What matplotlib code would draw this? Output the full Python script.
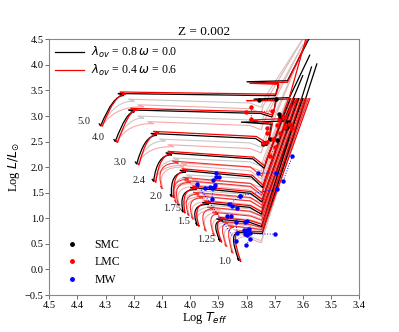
import matplotlib
matplotlib.use("Agg")
import matplotlib.pyplot as plt
from matplotlib.path import Path
from matplotlib.patches import PathPatch
from matplotlib.lines import Line2D

plt.rcParams['font.family'] = ['Liberation Serif', 'DejaVu Serif']
plt.rcParams['mathtext.fontset'] = 'dejavusans'

# ---- track parameters (log Teff, log L) ----
masses = [1.0, 1.25, 1.5, 1.75, 2.0, 2.4, 3.0, 4.0, 5.0]
mass_labels = ["1.0", "1.25", "1.5", "1.75", "2.0", "2.4", "3.0", "4.0", "5.0"]
label_t = [3.878, 3.945, 4.022, 4.063, 4.122, 4.183, 4.250, 4.326, 4.378]
label_l = [0.15, 0.59, 0.93, 1.19, 1.42, 1.73, 2.09, 2.58, 2.89]
ms_bulge = [0.040, 0.035, 0.030, 0.020, 0.008, -0.012, -0.028, -0.040, -0.045]
has_hook = [0, 1, 1, 1, 1, 1, 1, 1, 1]

# lambda_ov = 0.8, omega = 0.0 (black)
blk_zams_t = [3.827, 3.894, 3.975, 4.025, 4.066, 4.130, 4.190, 4.266, 4.318]
blk_zams_l = [0.17, 0.55, 0.86, 1.12, 1.42, 1.72, 2.06, 2.50, 2.805]
blk_tams_t = [3.825, 3.885, 3.935, 3.978, 4.015, 4.065, 4.118, 4.198, 4.235]
blk_tams_l = [0.72, 0.95, 1.27, 1.56, 1.90, 2.24, 2.62, 3.08, 3.40]
blk_base_t = [3.745, 3.747, 3.748, 3.746, 3.743, 3.738, 3.728, 3.710, 3.698]
blk_base_l = [0.70, 0.84, 1.08, 1.32, 1.60, 1.98, 2.42, 2.98, 3.40]
blk_top_t = [3.550, 3.569, 3.600, 3.615, 3.630, 3.645, 3.712, 3.697, 3.688]
blk_top_l = [4.03, 3.97, 3.35, 3.35, 3.35, 3.35, 2.84, 3.30, 3.64]

# lambda_ov = 0.4, omega = 0.6 (red)
red_zams_t = [3.820, 3.888, 3.968, 4.018, 4.058, 4.122, 4.182, 4.258, 4.312]
red_zams_l = [0.15, 0.53, 0.84, 1.10, 1.40, 1.70, 2.04, 2.48, 2.80]
red_tams_t = [3.820, 3.878, 3.928, 3.970, 4.008, 4.058, 4.110, 4.190, 4.228]
red_tams_l = [0.75, 0.98, 1.30, 1.59, 1.93, 2.27, 2.66, 3.11, 3.43]
red_base_t = [3.742, 3.744, 3.745, 3.743, 3.740, 3.735, 3.725, 3.708, 3.695]
red_base_l = [0.74, 0.88, 1.12, 1.36, 1.64, 2.02, 2.46, 3.02, 3.43]
red_top_t = [3.575, 3.590, 3.605, 3.620, 3.635, 3.650, 3.708, 3.694, 3.685]
red_top_l = [3.35, 3.35, 3.35, 3.35, 3.35, 3.35, 2.86, 3.30, 3.62]

# blue loops and early AGB for 3.0, 4.0, 5.0
blk_loop_t = [3.820, 3.775, 3.800]
blk_loop_l = [2.88, 3.33, 3.67]
blk_ret_t = [3.668, 3.648, 3.655]
blk_ret_l = [2.90, 3.36, 3.69]
blk_agb_t = [3.600, 3.575, 3.570]
blk_agb_l = [3.80, 4.20, 4.60]
red_loop_t = [3.790, 3.800, 3.790]
red_loop_l = [2.92, 3.30, 3.64]
red_ret_t = [3.665, 3.650, 3.655]
red_ret_l = [2.95, 3.33, 3.66]
red_agb_t = [3.620, 3.585, 3.575]
red_agb_l = [3.35, 4.60, 4.60]

# other parameter combinations (light lines)
pnk_tams_t = [3.800, 3.850, 3.892, 3.935, 3.972, 4.012, 4.058, 4.130, 4.165]
pnk_tams_l = [0.64, 0.88, 1.16, 1.43, 1.72, 2.04, 2.40, 2.85, 3.18]
gry_tams_t = [3.812, 3.866, 3.912, 3.955, 3.993, 4.040, 4.088, 4.165, 4.198]
gry_tams_l = [0.68, 0.92, 1.22, 1.50, 1.81, 2.14, 2.51, 2.96, 3.29]
lgt_top_t = [3.585, 3.595, 3.610, 3.625, 3.640, 3.655, 3.615, 3.600, 3.590]
lgt_top_l = [3.35, 3.35, 3.35, 3.35, 3.35, 3.35, 4.10, 4.40, 4.60]

# intermediate masses in the low-mass fan
mid_zams_t = [3.850, 3.872, 3.915, 3.945, 3.990, 4.005, 4.040, 4.050, 4.100]
mid_zams_l = [0.32, 0.45, 0.66, 0.75, 0.98, 1.05, 1.24, 1.30, 1.58]
mid_tams_t = [3.845, 3.866, 3.900, 3.918, 3.955, 3.968, 3.998, 4.005, 4.042]
mid_tams_l = [0.82, 0.90, 1.08, 1.18, 1.40, 1.47, 1.70, 1.76, 2.08]
mid_base_l = [0.78, 0.82, 0.96, 1.04, 1.20, 1.26, 1.45, 1.50, 1.82]
mid_top_t = [3.580, 3.585, 3.595, 3.600, 3.612, 3.618, 3.626, 3.630, 3.642]

# observed stars: each consecutive pair is joined by a dotted line
smc_t = [3.755, 3.696, 3.684, 3.681, 3.654, 3.651, 3.655, 3.660, 3.717, 3.691, 3.743, 3.738]
smc_l = [3.31, 3.34, 3.04, 2.99, 2.89, 2.84, 2.78, 2.76, 2.55, 2.54, 2.45, 2.47]
lmc_t = [3.802, 3.711, 3.784, 3.784, 3.726, 3.729, 3.741, 3.729, 3.693, 3.684,
         3.672, 3.664, 3.648, 3.640, 3.681, 3.705, 3.698, 3.717]
lmc_l = [3.07, 3.10, 3.17, 2.94, 2.76, 2.66, 2.47, 2.50, 2.83, 2.92,
         2.98, 2.79, 2.84, 2.76, 2.66, 2.56, 2.40, 2.21]
mw_t = [3.977, 3.838, 3.948, 3.930, 3.924, 3.912, 3.918, 3.909, 3.897, 3.909,
        3.924, 3.916, 3.823, 3.693, 3.758, 3.697, 3.670, 3.638, 3.861, 3.823,
        3.851, 3.833, 3.855, 3.871, 3.838, 3.833, 3.800, 3.699, 3.806, 3.800,
        3.809, 3.800, 3.806, 3.798, 3.790, 3.788, 3.802, 3.788]
mw_l = [1.68, 0.56, 1.60, 1.62, 1.59, 1.65, 1.75, 1.81, 1.80, 1.89,
        1.37, 1.62, 1.44, 1.57, 1.88, 1.89, 1.73, 2.21, 1.27, 1.44,
        1.24, 1.20, 1.05, 1.05, 0.93, 0.72, 0.70, 0.69, 0.92, 0.95,
        0.77, 0.78, 0.69, 0.67, 0.80, 0.71, 0.48, 0.59]


def track(t0, l0, t1, l1, bt, bl, et, el, bulge, hook, loop=None):
    verts = [(t0 + 0.006, l0 + 0.05), (t0, l0), (t0 + bulge, l1 + 0.02), (t1, l1)]
    codes = [Path.MOVETO, Path.LINETO, Path.CURVE3, Path.CURVE3]
    if hook:
        verts.append((t1 + 0.022, l1 + 0.04))
        codes.append(Path.LINETO)
    verts += [(bt + 0.04, l1 - 0.3 * (l1 - bl)), (bt, bl), (bt - 0.008, bl + 0.15), (et, el)]
    codes += [Path.LINETO] * 4
    if loop is not None:
        verts += loop
        codes += [Path.LINETO] * len(loop)
    return Path(verts, codes)


fig = plt.figure(figsize=(3.99, 3.32), dpi=100)
ax = fig.add_axes([0.1236, 0.1114, 0.7769, 0.7702])


def draw(path, color, lw, z):
    ax.add_patch(PathPatch(path, fill=False, edgecolor=color, lw=lw, zorder=z))


n = len(masses)
for i in range(n):
    for tt, tl, c in [(pnk_tams_t, pnk_tams_l, '#f4aaaa'), (gry_tams_t, gry_tams_l, '#c8c8c8')]:
        draw(track(blk_zams_t[i] - 0.004, blk_zams_l[i] - 0.01, tt[i], tl[i],
                   3.748, tl[i] - 0.12, lgt_top_t[i], lgt_top_l[i],
                   ms_bulge[i], has_hook[i]), c, 0.8, 1)

for i in range(len(mid_zams_t)):
    draw(track(mid_zams_t[i], mid_zams_l[i], mid_tams_t[i], mid_tams_l[i],
               3.746, mid_base_l[i], mid_top_t[i], 3.35, 0.03, 1), '#ee3333', 0.8, 2)
    draw(track(mid_zams_t[i] - 0.004, mid_zams_l[i] - 0.01, mid_tams_t[i] - 0.02,
               mid_tams_l[i] - 0.08, 3.748, mid_base_l[i] - 0.05, mid_top_t[i] + 0.01,
               3.35, 0.03, 1), '#f3b0b0', 0.8, 1)

for i in range(n):
    loop_b = loop_r = None
    if i >= 6:
        k = i - 6
        loop_b = [(blk_loop_t[k], blk_loop_l[k]), (blk_ret_t[k], blk_ret_l[k]), (blk_agb_t[k], blk_agb_l[k])]
        loop_r = [(red_loop_t[k], red_loop_l[k]), (red_ret_t[k], red_ret_l[k]), (red_agb_t[k], red_agb_l[k])]
    draw(track(blk_zams_t[i], blk_zams_l[i], blk_tams_t[i], blk_tams_l[i],
               blk_base_t[i], blk_base_l[i], blk_top_t[i], blk_top_l[i],
               ms_bulge[i], has_hook[i], loop_b), 'black', 0.9, 3)
    draw(track(red_zams_t[i], red_zams_l[i], red_tams_t[i], red_tams_l[i],
               red_base_t[i], red_base_l[i], red_top_t[i], red_top_l[i],
               ms_bulge[i], has_hook[i], loop_r), 'red', 0.9, 4)
    ax.text(label_t[i], label_l[i], mass_labels[i], fontsize=7.5, ha='center', va='center', color='#222222')

for ts, ls, c in [(smc_t, smc_l, 'black'), (lmc_t, lmc_l, 'red'), (mw_t, mw_l, 'blue')]:
    for j in range(0, len(ts) - 1, 2):
        ax.plot(ts[j:j + 2], ls[j:j + 2], ':', color=c, lw=0.7, zorder=5)
    ax.plot(ts, ls, 'o', color=c, ms=2.2, ls='none', zorder=6)

ax.set_xlim(4.5, 3.4)
ax.set_ylim(-0.5, 4.5)
ax.set_xticks([4.5, 4.4, 4.3, 4.2, 4.1, 4.0, 3.9, 3.8, 3.7, 3.6, 3.5, 3.4])
ax.set_yticks([-0.5, 0.0, 0.5, 1.0, 1.5, 2.0, 2.5, 3.0, 3.5, 4.0, 4.5])
ax.tick_params(labelsize=7.5, length=3, width=0.6, color='#555555', pad=1)
for s in ax.spines.values():
    s.set_color('#888888')
    s.set_linewidth(0.8)
ax.set_xlabel(r'Log $T_{eff}$', fontsize=9, labelpad=0)
ax.set_ylabel(r'Log $L/L_{\odot}$', fontsize=9, labelpad=2)
ax.set_title('Z = 0.002', fontsize=9.5, pad=3)

h1 = [Line2D([], [], color='black', lw=0.9), Line2D([], [], color='red', lw=0.9)]
leg1 = ax.legend(h1, [r'$\lambda_{ov}$ = 0.8 $\omega$ = 0.0', r'$\lambda_{ov}$ = 0.4 $\omega$ = 0.6'],
                 loc='upper left', frameon=False, fontsize=8.5, handlelength=2.4,
                 borderaxespad=0.1, labelspacing=0.25, handletextpad=0.6)
ax.add_artist(leg1)
h2 = [Line2D([], [], marker='o', color=c, ms=2.5, ls='none') for c in ['black', 'red', 'blue']]
ax.legend(h2, ['SMC', 'LMC', 'MW'], loc='lower left', bbox_to_anchor=(0.0, -0.005),
          frameon=False, fontsize=8.5, handletextpad=0.9, labelspacing=0.45)

fig.savefig('out.png', dpi=100)
